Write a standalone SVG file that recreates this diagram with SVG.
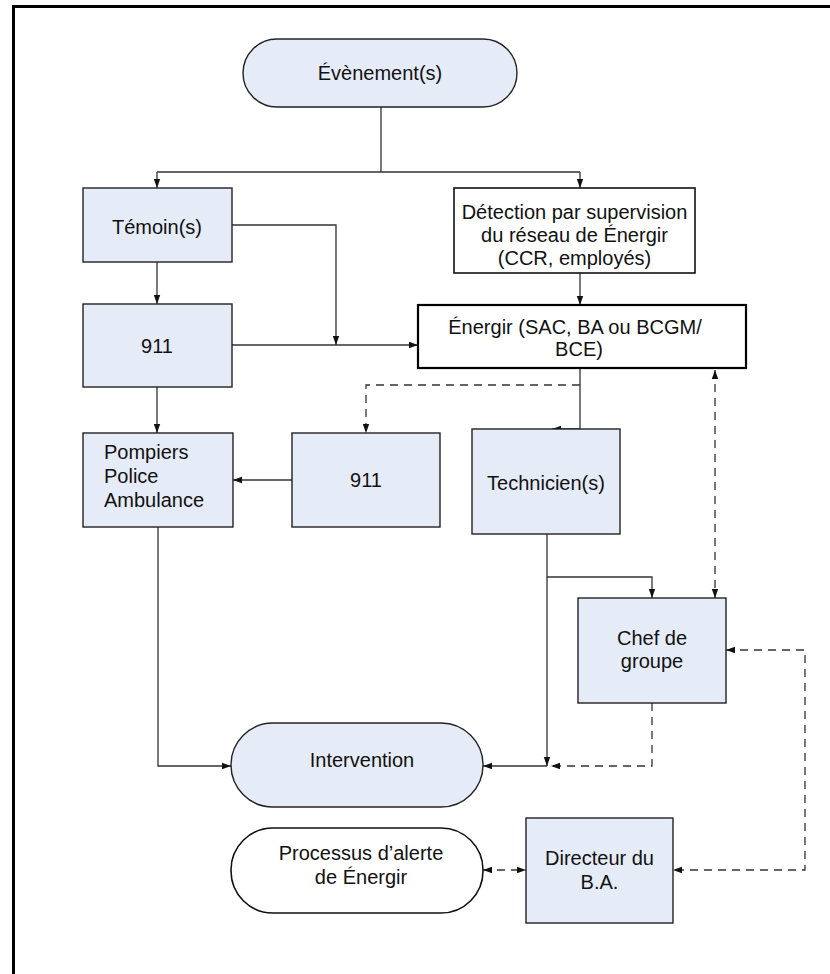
<svg xmlns="http://www.w3.org/2000/svg" width="830" height="974" viewBox="0 0 830 974">
<style>
.fr{fill:none;stroke:#000;stroke-width:3}
.nb{fill:#E6ECF7;stroke:#222;stroke-width:1.4}
.nw{fill:#fff;stroke:#111;stroke-width:1.6}
.nk{fill:#fff;stroke:#000;stroke-width:2.2}
text{font-family:"Liberation Sans",Arial,sans-serif;font-size:20px;fill:#111}
.c{text-anchor:middle}
.ln{fill:none;stroke:#333;stroke-width:1.3}
.ds{fill:none;stroke:#333;stroke-width:1.3;stroke-dasharray:8,6}
</style>
<defs>
<marker id="a" markerUnits="userSpaceOnUse" markerWidth="10" markerHeight="8" refX="9" refY="4" orient="auto-start-reverse">
<path d="M0,0.8 L9,4 L0,7.2 Z" fill="#111"/>
</marker>
</defs>
<rect class="fr" x="13.5" y="6.5" width="840" height="1000"/>

<g id="connectors">
<path class="ln" d="M381,107 V172"/>
<path class="ln" d="M157,172 H580"/>
<path class="ln" d="M157,172 V188" marker-end="url(#a)"/>
<path class="ln" d="M580,172 V188" marker-end="url(#a)"/>
<path class="ln" d="M157,262 V304" marker-end="url(#a)"/>
<path class="ln" d="M232,225 H336 V345" marker-end="url(#a)"/>
<path class="ln" d="M232,345 H418" marker-end="url(#a)"/>
<path class="ln" d="M580,273 V305" marker-end="url(#a)"/>
<path class="ln" d="M580,368 V429 H552" marker-end="url(#a)"/>
<path class="ds" d="M580,385 H366 V433" marker-end="url(#a)"/>
<path class="ln" d="M292,480 H233" marker-end="url(#a)"/>
<path class="ln" d="M157,387 V433" marker-end="url(#a)"/>
<path class="ds" d="M715,370 V598" marker-start="url(#a)" marker-end="url(#a)"/>
<path class="ln" d="M547,534 V577 H652 V598" marker-end="url(#a)"/>
<path class="ln" d="M547,577 V766" marker-end="url(#a)"/>
<path class="ln" d="M547,766 H483" marker-end="url(#a)"/>
<path class="ds" d="M652,703 V766 H551" marker-end="url(#a)"/>
<path class="ln" d="M158,527 V766 H231" marker-end="url(#a)"/>
<path class="ds" d="M726,650 H805 V870 H673" marker-start="url(#a)" marker-end="url(#a)"/>
<path class="ds" d="M483,870 H526" marker-start="url(#a)" marker-end="url(#a)"/>
</g>

<g id="evenement">
<rect class="nb" x="243" y="39" width="274" height="68" rx="34"/>
<text class="c" x="380" y="80">Évènement(s)</text>
</g>
<g id="temoin">
<rect class="nb" x="83" y="188" width="149" height="74"/>
<text class="c" x="157" y="234">Témoin(s)</text>
</g>
<g id="detection">
<rect class="nw" x="454" y="188" width="241" height="85"/>
<text class="c" x="574.5" y="219">Détection par supervision</text>
<text class="c" x="574.5" y="242">du réseau de Énergir</text>
<text class="c" x="574.5" y="265">(CCR, employés)</text>
</g>
<g id="n911a">
<rect class="nb" x="83" y="304" width="149" height="83"/>
<text class="c" x="157" y="353">911</text>
</g>
<g id="energir">
<rect class="nk" x="418" y="305" width="328" height="63"/>
<text class="c" x="575" y="334">Énergir (SAC, BA ou BCGM/</text>
<text class="c" x="579" y="356">BCE)</text>
</g>
<g id="pompiers">
<rect class="nb" x="83" y="433" width="150" height="94"/>
<text x="104" y="459">Pompiers</text>
<text x="104" y="483">Police</text>
<text x="104" y="507">Ambulance</text>
</g>
<g id="n911b">
<rect class="nb" x="292" y="433" width="148" height="94"/>
<text class="c" x="366" y="487">911</text>
</g>
<g id="technicien">
<rect class="nb" x="472" y="429" width="148" height="105"/>
<text class="c" x="546" y="490">Technicien(s)</text>
</g>
<g id="chef">
<rect class="nb" x="578" y="598" width="148" height="105"/>
<text class="c" x="652" y="645">Chef de</text>
<text class="c" x="652" y="668">groupe</text>
</g>
<g id="intervention">
<rect class="nb" x="231" y="723" width="252" height="84" rx="42"/>
<text class="c" x="362" y="767">Intervention</text>
</g>
<g id="processus">
<rect class="nw" x="231" y="828" width="252" height="85" rx="42"/>
<text class="c" x="361" y="860">Processus d’alerte</text>
<text class="c" x="361" y="884">de Énergir</text>
</g>
<g id="directeur">
<rect class="nb" x="526" y="818" width="147" height="105"/>
<text class="c" x="599.5" y="865">Directeur du</text>
<text class="c" x="599.5" y="889">B.A.</text>
</g>
</svg>
